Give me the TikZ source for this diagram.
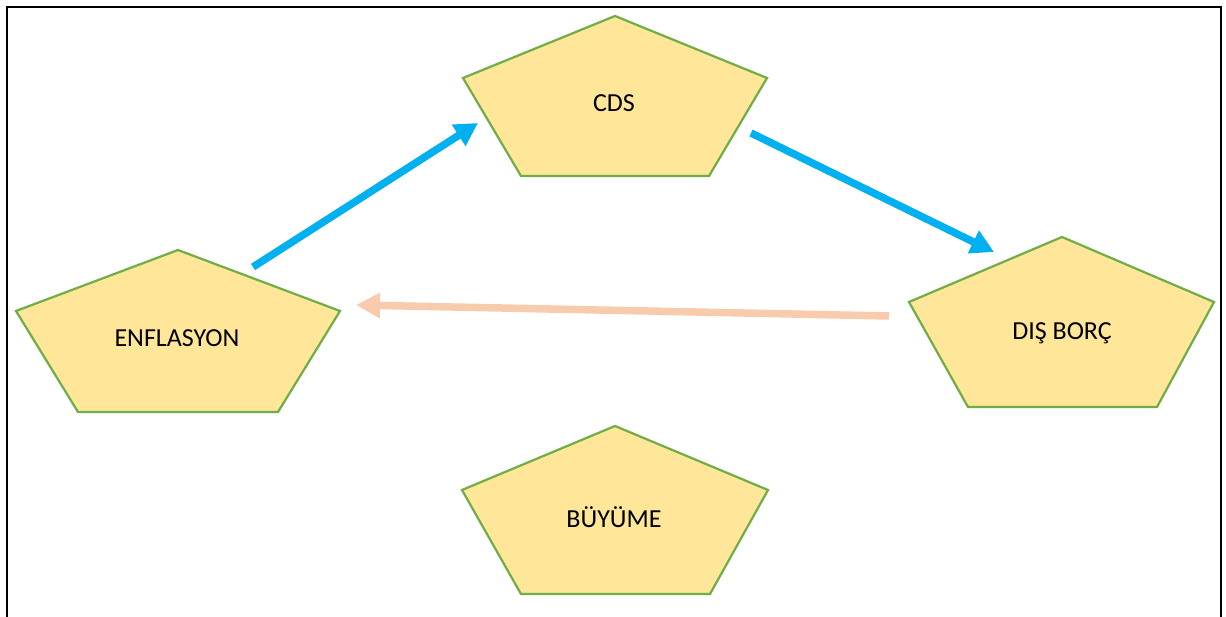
\documentclass[tikz,border=0pt]{standalone}
\usepackage{fontspec}
\setmainfont{Carlito}
\usetikzlibrary{arrows.meta}
\definecolor{pentfill}{HTML}{FFE699}
\definecolor{pentline}{HTML}{70AD47}
\definecolor{flowblue}{HTML}{00B0F0}
\definecolor{flowpeach}{HTML}{F8CBAD}
\tikzset{
  pent/.style={fill=pentfill, draw=pentline, line width=2.2pt, line join=miter},
  lbl/.style={anchor=base, inner sep=0pt, font=\fontsize{26}{30}\selectfont},
  bluearrow/.style={draw=flowblue, line width=7.5pt, -{Triangle[length=23pt,width=24pt]}},
  peacharrow/.style={draw=flowpeach, line width=7.5pt, -{Triangle[length=24pt,width=24pt]}},
  frame/.style={draw=black, line width=2.5pt}
}
\begin{document}
\begin{tikzpicture}[x=1pt,y=-1pt]
\useasboundingbox (0,0) rectangle (1226,617);
\fill[white] (0,0) rectangle (1226,617);

% outer frame (open at the bottom)
\draw[frame] (7,620) -- (7,7) -- (1221,7) -- (1221,620);

% pentagons
\draw[pent] (615,16) -- (767,78) -- (709,176) -- (521,176) -- (463,78) -- cycle;
\node[lbl] (cds) at (614,112) {CDS};

\draw[pent] (178,250) -- (340,311) -- (278,412) -- (78,412) -- (16,311) -- cycle;
\node[lbl] (enf) at (177,347) {ENFLASYON};

\draw[pent] (1062,237) -- (1214,302) -- (1157,407) -- (968,407) -- (909,302) -- cycle;
\node[lbl] (dis) at (1062,340) {DIŞ BORÇ};

\draw[pent] (615,426) -- (768,490) -- (710,594) -- (521,594) -- (462,490) -- cycle;
\node[lbl] (buy) at (614,527) {BÜYÜME};

% connector end points
\coordinate (enf-out) at (253,267);
\coordinate (cds-in)  at (478,123);
\coordinate (cds-out) at (751,133);
\coordinate (dis-in)  at (994,252);
\coordinate (dis-out) at (889,316);
\coordinate (enf-in)  at (356,305);

% connectors
\draw[bluearrow] (enf-out) -- (cds-in);
\draw[bluearrow] (cds-out) -- (dis-in);
\draw[peacharrow] (dis-out) -- (enf-in);
\end{tikzpicture}
\end{document}
